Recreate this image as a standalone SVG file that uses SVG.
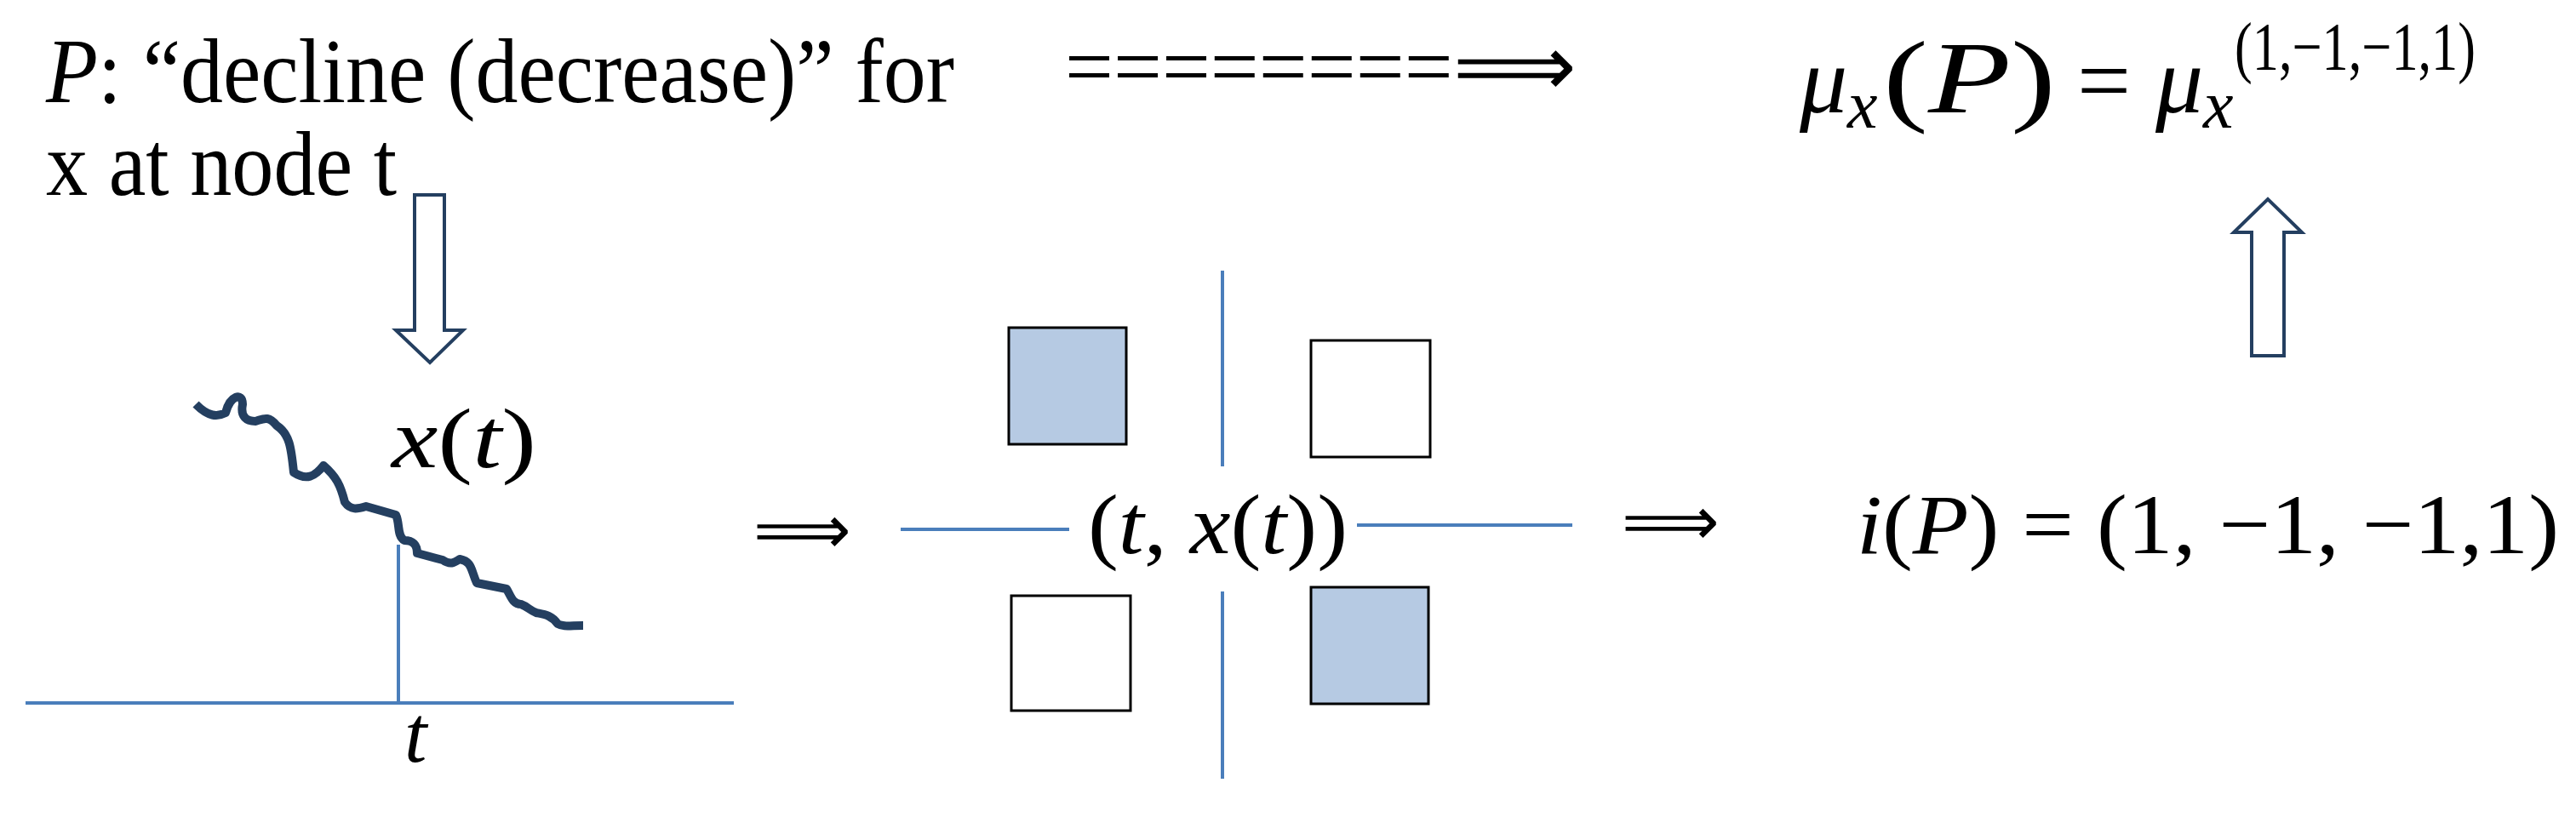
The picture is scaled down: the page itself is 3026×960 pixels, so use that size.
<svg xmlns="http://www.w3.org/2000/svg" width="3026" height="960" viewBox="0 0 3026 960">
<style>
.t{font-family:"Liberation Serif",serif;fill:#000}
.ax{stroke:#4a7ebb;stroke-width:4;fill:none}
.sq{stroke:#000;stroke-width:3}
.ar{fill:#fff;stroke:#243f60;stroke-width:4}
</style>
<rect width="3026" height="960" fill="#fff"/>
<g id="label-P">
<text class="t" x="54" y="120" font-size="108" textLength="1067" lengthAdjust="spacingAndGlyphs"><tspan font-style="italic">P</tspan>: “decline (decrease)” for</text>
<text class="t" x="54" y="229" font-size="108" textLength="412" lengthAdjust="spacingAndGlyphs">x at node t</text>
</g>
<g id="result-mu">
<text class="t" x="2114" y="132" font-size="112" font-style="italic">μ</text>
<text class="t" x="2170" y="150" font-size="80" font-style="italic">x</text>
<text class="t" x="2212" y="132" font-size="120" textLength="203" lengthAdjust="spacingAndGlyphs">(<tspan font-style="italic">P</tspan>)</text>
<text class="t" x="2440" y="132" font-size="112">=</text>
<text class="t" x="2532" y="132" font-size="112" font-style="italic">μ</text>
<text class="t" x="2588" y="150" font-size="80" font-style="italic">x</text>
<text class="t" x="2625" y="82" font-size="80" textLength="283" lengthAdjust="spacingAndGlyphs">(1,−1,−1,1)</text>
</g>
<g id="plot">
<line class="ax" x1="30" y1="826" x2="862" y2="826"/>
<line class="ax" x1="468" y1="640" x2="468" y2="826"/>
<path d="M230,475 C245,490 255,490 265,485 C270,465 285,460 285,475 C282,490 290,495 300,495 C310,492 315,488 325,500 C340,510 342,525 345,555 C360,565 370,560 380,547 C395,560 400,570 405,590 C412,600 420,598 430,595 L465,605 C470,615 466,630 475,635 C485,635 490,640 490,650 L520,658 C530,665 535,660 540,657 C555,660 553,670 560,685 L595,692 C600,700 602,710 612,710 C620,713 622,717 630,720 C640,722 648,723 655,733 C662,737 670,735 685,735" fill="none" stroke="#243f60" stroke-width="10" stroke-linejoin="round"/>
<text class="t" x="460" y="549" font-size="100" textLength="170" lengthAdjust="spacingAndGlyphs"><tspan font-style="italic">x</tspan>(<tspan font-style="italic">t</tspan>)</text>
<text class="t" x="475" y="895" font-size="95" font-style="italic">t</text>
</g>
<g id="quadrants">
<line class="ax" x1="1058" y1="622" x2="1256" y2="622"/>
<line class="ax" x1="1594" y1="617" x2="1847" y2="617"/>
<line class="ax" x1="1436" y1="318" x2="1436" y2="548"/>
<line class="ax" x1="1436" y1="695" x2="1436" y2="915"/>
<rect class="sq" x="1185" y="385" width="138" height="137" fill="#b6cae3"/>
<rect class="sq" x="1540" y="400" width="140" height="137" fill="#fff"/>
<rect class="sq" x="1188" y="700" width="140" height="135" fill="#fff"/>
<rect class="sq" x="1540" y="690" width="138" height="137" fill="#b6cae3"/>
<text class="t" x="1278" y="650" font-size="100" textLength="305" lengthAdjust="spacingAndGlyphs">(<tspan font-style="italic">t</tspan>, <tspan font-style="italic">x</tspan>(<tspan font-style="italic">t</tspan>))</text>
</g>
<g id="result-i">
<text class="t" x="2181" y="650" font-size="100" textLength="825" lengthAdjust="spacingAndGlyphs"><tspan font-style="italic">i</tspan>(<tspan font-style="italic">P</tspan>) = (1, −1, −1,1)</text>
</g>
<g id="connectors">
<polygon class="ar" points="487,229 522,229 522,388 544,388 505,426 465,388 487,388"/>
<polygon class="ar" points="2645,418 2683,418 2683,273 2704,273 2664,234 2624,273 2645,273"/>
<text class="t" x="1251" y="112" font-size="100" textLength="600" lengthAdjust="spacingAndGlyphs">========⟹</text>
<text class="t" x="885" y="650" font-size="80">⟹</text>
<text class="t" x="1905" y="640" font-size="80">⟹</text>
</g>
</svg>
